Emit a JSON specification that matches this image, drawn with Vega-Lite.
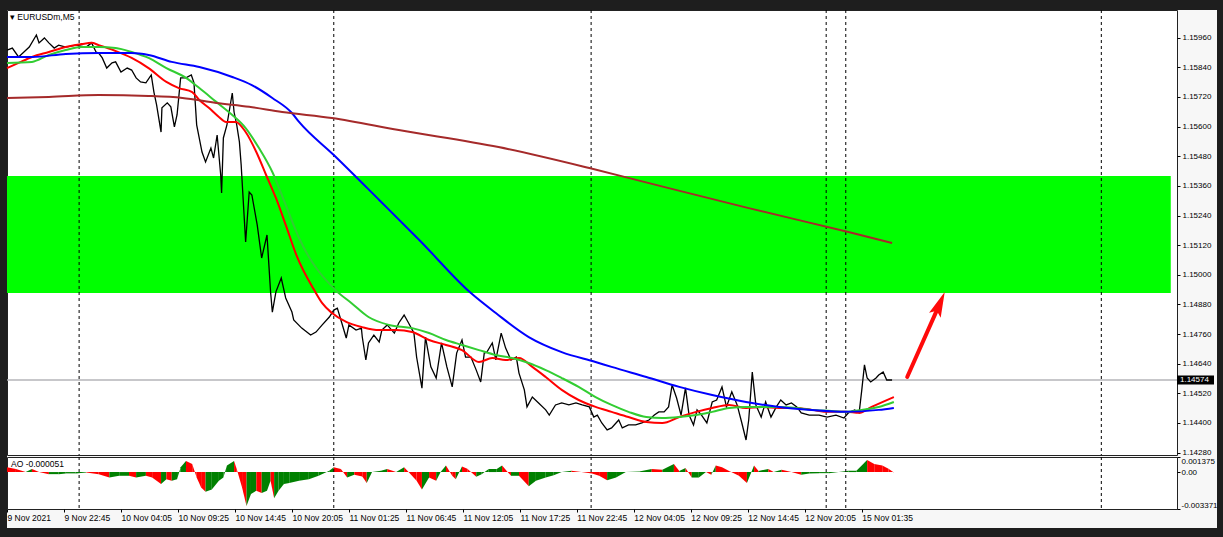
{
  "$schema": "https://vega.github.io/schema/vega-lite/v6.json",
  "padding": 0,
  "background": "#f7f7f7",
  "columns": 4,
  "spacing": 0,
  "bounds": "flush",
  "align": "each",
  "config": {
    "font": "Liberation Sans",
    "view": {"stroke": null},
    "axis": {"labelFont": "Liberation Sans", "labelFontSize": 8, "labelColor": "#000", "tickColor": "#000", "domain": false, "grid": false, "labelOverlap": false},
    "title": {"font": "Liberation Sans", "fontSize": 8.5, "fontWeight": "normal", "color": "#000"}
  },
  "datasets": {
    "one": [{"k": 1}],
    "zone": [{"i0": 0, "i1": 1307, "top": 1.154, "bottom": 1.14926}],
    "seps": [{"i": 81}, {"i": 367}, {"i": 656}, {"i": 920}, {"i": 942}, {"i": 1229}],
    "last": [{"i": 1314, "p": 1.14574, "label": "1.14574"}],
    "arrow": [{"i": 1011, "p": 1.14586, "i2": 1047, "p2": 1.14878}],
    "price": [
      {"i":0,"p":1.1591},{"i":6,"p":1.15918},{"i":13,"p":1.15882},{"i":19,"p":1.15902},{"i":25,"p":1.15922},{"i":33,"p":1.15971},{"i":36,"p":1.15939},{"i":42,"p":1.15959},{"i":47,"p":1.15939},{"i":53,"p":1.15918},{"i":58,"p":1.1593},{"i":66,"p":1.15922},{"i":77,"p":1.1593},{"i":89,"p":1.15922},{"i":95,"p":1.15939},{"i":100,"p":1.15902},{"i":103,"p":1.15898},{"i":107,"p":1.15878},{"i":112,"p":1.15837},{"i":118,"p":1.15858},{"i":122,"p":1.15862},{"i":128,"p":1.15821},{"i":135,"p":1.15837},{"i":140,"p":1.15829},{"i":145,"p":1.15797},{"i":150,"p":1.15781},{"i":156,"p":1.15777},{"i":162,"p":1.15809},{"i":165,"p":1.1574},{"i":168,"p":1.15688},{"i":173,"p":1.15578},{"i":174,"p":1.15676},{"i":180,"p":1.15696},{"i":184,"p":1.1568},{"i":188,"p":1.15599},{"i":191,"p":1.15648},{"i":195,"p":1.15797},{"i":201,"p":1.15797},{"i":207,"p":1.15809},{"i":210,"p":1.15777},{"i":213,"p":1.15607},{"i":219,"p":1.15497},{"i":223,"p":1.15457},{"i":229,"p":1.15513},{"i":232,"p":1.15473},{"i":236,"p":1.15566},{"i":240,"p":1.15404},{"i":241,"p":1.15331},{"i":243,"p":1.15554},{"i":247,"p":1.15607},{"i":253,"p":1.15736},{"i":255,"p":1.15659},{"i":258,"p":1.15607},{"i":261,"p":1.15538},{"i":263,"p":1.15444},{"i":268,"p":1.15133},{"i":272,"p":1.15335},{"i":275,"p":1.15323},{"i":281,"p":1.15202},{"i":286,"p":1.15068},{"i":292,"p":1.15161},{"i":296,"p":1.14931},{"i":298,"p":1.14849},{"i":302,"p":1.14931},{"i":308,"p":1.14987},{"i":313,"p":1.14906},{"i":320,"p":1.14849},{"i":322,"p":1.14817},{"i":331,"p":1.14784},{"i":341,"p":1.14756},{"i":347,"p":1.14768},{"i":354,"p":1.14797},{"i":362,"p":1.14829},{"i":367,"p":1.14857},{"i":371,"p":1.14865},{"i":375,"p":1.14817},{"i":381,"p":1.14744},{"i":384,"p":1.14797},{"i":392,"p":1.14776},{"i":398,"p":1.14784},{"i":399,"p":1.14748},{"i":403,"p":1.14655},{"i":406,"p":1.14724},{"i":412,"p":1.14756},{"i":418,"p":1.14728},{"i":421,"p":1.14776},{"i":427,"p":1.14797},{"i":435,"p":1.14764},{"i":440,"p":1.14805},{"i":446,"p":1.14837},{"i":451,"p":1.14805},{"i":457,"p":1.14764},{"i":460,"p":1.14667},{"i":465,"p":1.14562},{"i":466,"p":1.14541},{"i":470,"p":1.14748},{"i":476,"p":1.14627},{"i":482,"p":1.14582},{"i":488,"p":1.14724},{"i":494,"p":1.14627},{"i":500,"p":1.14546},{"i":505,"p":1.14683},{"i":511,"p":1.14736},{"i":515,"p":1.14667},{"i":521,"p":1.14667},{"i":527,"p":1.14614},{"i":532,"p":1.14566},{"i":536,"p":1.14683},{"i":539,"p":1.14687},{"i":545,"p":1.14724},{"i":549,"p":1.14655},{"i":555,"p":1.14764},{"i":560,"p":1.14703},{"i":566,"p":1.14655},{"i":572,"p":1.14667},{"i":575,"p":1.14602},{"i":581,"p":1.14534},{"i":584,"p":1.14465},{"i":590,"p":1.14505},{"i":597,"p":1.14481},{"i":605,"p":1.14453},{"i":609,"p":1.14432},{"i":616,"p":1.14473},{"i":623,"p":1.14481},{"i":631,"p":1.14473},{"i":639,"p":1.14481},{"i":646,"p":1.14473},{"i":654,"p":1.14465},{"i":659,"p":1.14424},{"i":663,"p":1.14432},{"i":668,"p":1.144},{"i":674,"p":1.14372},{"i":679,"p":1.1438},{"i":687,"p":1.14412},{"i":691,"p":1.1438},{"i":698,"p":1.14392},{"i":706,"p":1.14392},{"i":713,"p":1.144},{"i":721,"p":1.14412},{"i":727,"p":1.14432},{"i":732,"p":1.14445},{"i":738,"p":1.14445},{"i":743,"p":1.14465},{"i":747,"p":1.14554},{"i":752,"p":1.14501},{"i":757,"p":1.14432},{"i":762,"p":1.14542},{"i":766,"p":1.14432},{"i":771,"p":1.14392},{"i":775,"p":1.14453},{"i":780,"p":1.14432},{"i":786,"p":1.144},{"i":792,"p":1.14485},{"i":797,"p":1.14493},{"i":803,"p":1.14546},{"i":808,"p":1.14465},{"i":814,"p":1.14526},{"i":820,"p":1.14473},{"i":825,"p":1.14404},{"i":830,"p":1.14331},{"i":833,"p":1.14412},{"i":837,"p":1.14606},{"i":841,"p":1.14473},{"i":847,"p":1.14424},{"i":852,"p":1.14485},{"i":858,"p":1.14424},{"i":864,"p":1.14465},{"i":869,"p":1.14493},{"i":875,"p":1.14473},{"i":881,"p":1.14481},{"i":887,"p":1.14465},{"i":892,"p":1.14441},{"i":901,"p":1.14432},{"i":912,"p":1.14432},{"i":921,"p":1.14424},{"i":931,"p":1.14432},{"i":940,"p":1.1442},{"i":945,"p":1.14441},{"i":952,"p":1.14453},{"i":957,"p":1.14441},{"i":960,"p":1.14534},{"i":963,"p":1.14635},{"i":966,"p":1.14582},{"i":970,"p":1.14566},{"i":976,"p":1.14582},{"i":979,"p":1.14594},{"i":984,"p":1.14606},{"i":988,"p":1.14574},{"i":994,"p":1.14574}
    ],
    "ma": [
      {"s":"fast","i":0,"p":1.15837},{"s":"fast","i":13,"p":1.15858},{"s":"fast","i":28,"p":1.15882},{"s":"fast","i":47,"p":1.15902},{"s":"fast","i":66,"p":1.15922},{"s":"fast","i":84,"p":1.15934},{"s":"fast","i":95,"p":1.15939},{"s":"fast","i":103,"p":1.1593},{"s":"fast","i":122,"p":1.15906},{"s":"fast","i":140,"p":1.15878},{"s":"fast","i":159,"p":1.15837},{"s":"fast","i":179,"p":1.15781},{"s":"fast","i":193,"p":1.15756},{"s":"fast","i":208,"p":1.1574},{"s":"fast","i":216,"p":1.15708},{"s":"fast","i":227,"p":1.15675},{"s":"fast","i":238,"p":1.15639},{"s":"fast","i":246,"p":1.15619},{"s":"fast","i":257,"p":1.15619},{"s":"fast","i":268,"p":1.15578},{"s":"fast","i":280,"p":1.15497},{"s":"fast","i":291,"p":1.15404},{"s":"fast","i":302,"p":1.15311},{"s":"fast","i":313,"p":1.15202},{"s":"fast","i":325,"p":1.1508},{"s":"fast","i":345,"p":1.14938},{"s":"fast","i":354,"p":1.14885},{"s":"fast","i":365,"p":1.14845},{"s":"fast","i":381,"p":1.14809},{"s":"fast","i":399,"p":1.14788},{"s":"fast","i":418,"p":1.14776},{"s":"fast","i":437,"p":1.14776},{"s":"fast","i":455,"p":1.14768},{"s":"fast","i":474,"p":1.14736},{"s":"fast","i":493,"p":1.14716},{"s":"fast","i":511,"p":1.14695},{"s":"fast","i":530,"p":1.14647},{"s":"fast","i":545,"p":1.14663},{"s":"fast","i":560,"p":1.14655},{"s":"fast","i":575,"p":1.14663},{"s":"fast","i":590,"p":1.14627},{"s":"fast","i":605,"p":1.14586},{"s":"fast","i":623,"p":1.14534},{"s":"fast","i":642,"p":1.14493},{"s":"fast","i":661,"p":1.14465},{"s":"fast","i":679,"p":1.14445},{"s":"fast","i":698,"p":1.14424},{"s":"fast","i":718,"p":1.14404},{"s":"fast","i":736,"p":1.144},{"s":"fast","i":755,"p":1.14424},{"s":"fast","i":774,"p":1.14445},{"s":"fast","i":792,"p":1.14461},{"s":"fast","i":811,"p":1.14473},{"s":"fast","i":830,"p":1.14461},{"s":"fast","i":848,"p":1.14465},{"s":"fast","i":867,"p":1.14461},{"s":"fast","i":886,"p":1.14461},{"s":"fast","i":904,"p":1.14453},{"s":"fast","i":923,"p":1.14445},{"s":"fast","i":942,"p":1.14445},{"s":"fast","i":957,"p":1.14441},{"s":"fast","i":971,"p":1.14465},{"s":"fast","i":996,"p":1.14505},
      {"s":"mid","i":0,"p":1.15858},{"s":"mid","i":28,"p":1.15862},{"s":"mid","i":47,"p":1.1589},{"s":"mid","i":66,"p":1.1591},{"s":"mid","i":84,"p":1.15922},{"s":"mid","i":103,"p":1.15922},{"s":"mid","i":122,"p":1.15918},{"s":"mid","i":140,"p":1.15902},{"s":"mid","i":159,"p":1.15878},{"s":"mid","i":179,"p":1.15837},{"s":"mid","i":201,"p":1.15797},{"s":"mid","i":216,"p":1.15756},{"s":"mid","i":235,"p":1.157},{"s":"mid","i":253,"p":1.15647},{"s":"mid","i":268,"p":1.15594},{"s":"mid","i":283,"p":1.15513},{"s":"mid","i":298,"p":1.15416},{"s":"mid","i":313,"p":1.15283},{"s":"mid","i":328,"p":1.15149},{"s":"mid","i":369,"p":1.14938},{"s":"mid","i":387,"p":1.14885},{"s":"mid","i":406,"p":1.14829},{"s":"mid","i":429,"p":1.14797},{"s":"mid","i":455,"p":1.14784},{"s":"mid","i":474,"p":1.14764},{"s":"mid","i":493,"p":1.14736},{"s":"mid","i":511,"p":1.14716},{"s":"mid","i":530,"p":1.14695},{"s":"mid","i":549,"p":1.14675},{"s":"mid","i":567,"p":1.14663},{"s":"mid","i":586,"p":1.14643},{"s":"mid","i":605,"p":1.14614},{"s":"mid","i":623,"p":1.14582},{"s":"mid","i":642,"p":1.14546},{"s":"mid","i":661,"p":1.14505},{"s":"mid","i":679,"p":1.14473},{"s":"mid","i":698,"p":1.14445},{"s":"mid","i":718,"p":1.14424},{"s":"mid","i":736,"p":1.1442},{"s":"mid","i":755,"p":1.14424},{"s":"mid","i":774,"p":1.14432},{"s":"mid","i":792,"p":1.14445},{"s":"mid","i":811,"p":1.14461},{"s":"mid","i":830,"p":1.14465},{"s":"mid","i":848,"p":1.14465},{"s":"mid","i":867,"p":1.14465},{"s":"mid","i":886,"p":1.14461},{"s":"mid","i":904,"p":1.14453},{"s":"mid","i":923,"p":1.14449},{"s":"mid","i":942,"p":1.14445},{"s":"mid","i":960,"p":1.14453},{"s":"mid","i":979,"p":1.14465},{"s":"mid","i":996,"p":1.14485},
      {"s":"slow","i":0,"p":1.15882},{"s":"slow","i":28,"p":1.15882},{"s":"slow","i":66,"p":1.15894},{"s":"slow","i":103,"p":1.15898},{"s":"slow","i":140,"p":1.15898},{"s":"slow","i":159,"p":1.1589},{"s":"slow","i":185,"p":1.15862},{"s":"slow","i":216,"p":1.15841},{"s":"slow","i":253,"p":1.15801},{"s":"slow","i":275,"p":1.15768},{"s":"slow","i":298,"p":1.15716},{"s":"slow","i":320,"p":1.15655},{"s":"slow","i":328,"p":1.15619},{"s":"slow","i":367,"p":1.15485},{"s":"slow","i":418,"p":1.15303},{"s":"slow","i":463,"p":1.15141},{"s":"slow","i":521,"p":1.14926},{"s":"slow","i":549,"p":1.14845},{"s":"slow","i":586,"p":1.14748},{"s":"slow","i":623,"p":1.14687},{"s":"slow","i":661,"p":1.14647},{"s":"slow","i":679,"p":1.14627},{"s":"slow","i":718,"p":1.14586},{"s":"slow","i":755,"p":1.14546},{"s":"slow","i":792,"p":1.14513},{"s":"slow","i":830,"p":1.14485},{"s":"slow","i":867,"p":1.14465},{"s":"slow","i":904,"p":1.14453},{"s":"slow","i":942,"p":1.14445},{"s":"slow","i":979,"p":1.14453},{"s":"slow","i":996,"p":1.14461},
      {"s":"long","i":0,"p":1.15716},{"s":"long","i":47,"p":1.1572},{"s":"long","i":103,"p":1.15728},{"s":"long","i":159,"p":1.15724},{"s":"long","i":197,"p":1.15716},{"s":"long","i":235,"p":1.15696},{"s":"long","i":272,"p":1.1568},{"s":"long","i":309,"p":1.15659},{"s":"long","i":365,"p":1.15635},{"s":"long","i":440,"p":1.15586},{"s":"long","i":552,"p":1.15517},{"s":"long","i":654,"p":1.15432},{"s":"long","i":721,"p":1.15371},{"s":"long","i":833,"p":1.1527},{"s":"long","i":945,"p":1.15173},{"s":"long","i":994,"p":1.15129}
    ],
    "ao": [
      {"i":0,"v":0.00043},{"i":10,"v":0.00028},{"i":21,"v":0},{"i":28,"v":0.00028},{"i":36,"v":0},{"i":47,"v":-0.00019},{"i":58,"v":-0.00019},{"i":66,"v":-0.00012},{"i":77,"v":-0.00012},{"i":89,"v":-0.00003},{"i":103,"v":-0.00019},{"i":115,"v":-0.0005},{"i":126,"v":-0.00034},{"i":137,"v":-0.00034},{"i":145,"v":-0.0005},{"i":156,"v":-0.00034},{"i":163,"v":-0.0005},{"i":173,"v":-0.0011},{"i":179,"v":-0.00065},{"i":185,"v":-0.0008},{"i":191,"v":-0.00065},{"i":195,"v":0.00043},{"i":201,"v":0.001},{"i":208,"v":0.00074},{"i":213,"v":-0.0005},{"i":218,"v":-0.0014},{"i":223,"v":-0.0018},{"i":230,"v":-0.0016},{"i":238,"v":-0.0008},{"i":243,"v":-0.0005},{"i":247,"v":0.0006},{"i":255,"v":0.001},{"i":258,"v":0.00028},{"i":264,"v":-0.0014},{"i":269,"v":-0.0031},{"i":274,"v":-0.002},{"i":280,"v":-0.0017},{"i":286,"v":-0.0019},{"i":292,"v":-0.0017},{"i":296,"v":-0.0008},{"i":300,"v":-0.0024},{"i":305,"v":-0.0017},{"i":311,"v":-0.0011},{"i":317,"v":-0.001},{"i":328,"v":-0.0008},{"i":339,"v":-0.00065},{"i":350,"v":-0.00034},{"i":362,"v":0.00012},{"i":367,"v":0.00043},{"i":375,"v":0.00028},{"i":382,"v":-0.0005},{"i":390,"v":-0.00025},{"i":399,"v":-0.0004},{"i":404,"v":-0.001},{"i":410,"v":0},{"i":420,"v":0.00012},{"i":427,"v":0.00028},{"i":437,"v":0},{"i":446,"v":0.00043},{"i":451,"v":0},{"i":460,"v":-0.0008},{"i":466,"v":-0.0016},{"i":474,"v":-0.0005},{"i":482,"v":-0.0008},{"i":487,"v":0},{"i":493,"v":0.0006},{"i":500,"v":-0.00034},{"i":504,"v":-0.00065},{"i":511,"v":0.0005},{"i":517,"v":0.0003},{"i":527,"v":-0.00043},{"i":533,"v":-0.0002},{"i":541,"v":0.00028},{"i":550,"v":0.00028},{"i":556,"v":0.0006},{"i":566,"v":-0.00034},{"i":575,"v":-0.00034},{"i":586,"v":-0.0013},{"i":594,"v":-0.0008},{"i":605,"v":-0.0005},{"i":614,"v":-0.0003},{"i":623,"v":0},{"i":634,"v":0.00012},{"i":645,"v":0},{"i":657,"v":-0.00012},{"i":665,"v":-0.00034},{"i":674,"v":-0.00074},{"i":684,"v":-0.0005},{"i":695,"v":0},{"i":710,"v":0.00006},{"i":724,"v":0.00028},{"i":736,"v":0.0002},{"i":749,"v":0.00074},{"i":755,"v":0.0001},{"i":762,"v":0.00037},{"i":769,"v":-0.0005},{"i":777,"v":-0.0005},{"i":785,"v":0},{"i":791,"v":-0.00025},{"i":796,"v":0.0006},{"i":803,"v":0.00043},{"i":811,"v":0.0001},{"i":822,"v":-0.00034},{"i":831,"v":-0.001},{"i":839,"v":0.0006},{"i":844,"v":0.0001},{"i":855,"v":0.00028},{"i":861,"v":0},{"i":870,"v":0.0002},{"i":881,"v":0},{"i":892,"v":-0.00025},{"i":901,"v":-0.00012},{"i":912,"v":-0.0001},{"i":923,"v":-0.0001},{"i":934,"v":0},{"i":945,"v":0.00012},{"i":954,"v":0.00012},{"i":966,"v":0.0011},{"i":974,"v":0.00074},{"i":983,"v":0.0006},{"i":990,"v":0.0003},{"i":996,"v":-0.00005}
    ]
  },
  "concat": [
    {"width": 7, "height": 10, "view": {"fill": "#1e1e1e"}, "data": {"name": "one"}, "mark": {"type": "point", "opacity": 0, "size": 1}, "encoding": {}},
    {"width": 1170, "height": 10, "view": {"fill": "#1e1e1e"}, "data": {"name": "one"}, "mark": {"type": "point", "opacity": 0, "size": 1}, "encoding": {}},
    {"width": 40, "height": 10, "view": {"fill": "#1e1e1e"}, "data": {"name": "one"}, "mark": {"type": "point", "opacity": 0, "size": 1}, "encoding": {}},
    {"width": 6, "height": 10, "view": {"fill": "#1e1e1e"}, "data": {"name": "one"}, "mark": {"type": "point", "opacity": 0, "size": 1}, "encoding": {}},

    {"width": 7, "height": 445, "view": {"fill": "#1e1e1e"}, "data": {"name": "one"}, "mark": {"type": "point", "opacity": 0, "size": 1}, "encoding": {}},
    {
      "width": 1170,
      "height": 445,
      "view": {"fill": "#ffffff", "stroke": "#222222", "strokeWidth": 1},
      "title": {"text": "▾ EURUSDm,M5", "anchor": "start", "frame": "group", "offset": -12, "dx": 3},
      "layer": [
        {
          "data": {"name": "zone"},
          "mark": {"type": "rect", "color": "#00ff00"},
          "encoding": {
            "x": {"field": "i0", "type": "quantitative", "scale": {"domain": [0, 1314], "nice": false, "zero": false}, "axis": null, "title": null},
            "x2": {"field": "i1"},
            "y": {"field": "top", "type": "quantitative", "scale": {"domain": [1.142703, 1.160721], "nice": false, "zero": false}, "title": null,
              "axis": {"orient": "right", "values": [1.1428, 1.144, 1.1452, 1.1464, 1.1476, 1.1488, 1.15, 1.1512, 1.1524, 1.1536, 1.1548, 1.156, 1.1572, 1.1584, 1.1596], "tickCount": 30, "format": ".5f", "tickSize": 3, "labelPadding": 2, "title": null, "labelOverlap": false}},
            "y2": {"field": "bottom"}
          }
        },
        {
          "data": {"name": "seps"},
          "mark": {"type": "rule", "color": "#000000", "strokeWidth": 1, "strokeDash": [3, 3]},
          "encoding": {"x": {"field": "i", "type": "quantitative", "axis": null, "title": null}}
        },
        {
          "data": {"name": "last"},
          "mark": {"type": "rule", "color": "#b4b4b8", "strokeWidth": 1.5},
          "encoding": {"y": {"field": "p", "type": "quantitative", "title": null}}
        },
        {
          "data": {"name": "price"},
          "mark": {"type": "line", "color": "#000000", "strokeWidth": 1.3},
          "encoding": {
            "x": {"field": "i", "type": "quantitative", "axis": null, "title": null},
            "y": {"field": "p", "type": "quantitative", "title": null}
          }
        },
        {
          "data": {"name": "ma"},
          "mark": {"type": "line", "strokeWidth": 2, "interpolate": "monotone"},
          "encoding": {
            "x": {"field": "i", "type": "quantitative", "axis": null, "title": null},
            "y": {"field": "p", "type": "quantitative", "title": null},
            "color": {"field": "s", "type": "nominal", "legend": null, "scale": {"domain": ["long", "slow", "mid", "fast"], "range": ["#a52a2a", "#0000ff", "#32cd32", "#ff0000"]}},
            "order": {"field": "i", "type": "quantitative"}
          }
        },
        {
          "data": {"name": "arrow"},
          "mark": {"type": "rule", "color": "#ff0a0a", "strokeWidth": 4, "strokeCap": "round"},
          "encoding": {
            "x": {"field": "i", "type": "quantitative", "axis": null, "title": null},
            "y": {"field": "p", "type": "quantitative", "title": null},
            "x2": {"field": "i2"},
            "y2": {"field": "p2"}
          }
        },
        {
          "data": {"name": "arrow"},
          "mark": {"type": "point", "shape": "M0,-1L0.45,0.8L0,0.45L-0.45,0.8Z", "size": 784, "angle": 23, "filled": true, "color": "#ff0a0a", "opacity": 1, "strokeWidth": 0},
          "encoding": {
            "x": {"field": "i2", "type": "quantitative", "axis": null, "title": null},
            "y": {"field": "p2", "type": "quantitative", "title": null}
          }
        },
        {
          "data": {"name": "last"},
          "mark": {"type": "point", "shape": "M0,-0.12L1,-0.12L1,0.12L0,0.12Z", "size": 5476, "filled": true, "color": "#000000", "opacity": 1, "strokeWidth": 0, "clip": false},
          "encoding": {
            "x": {"field": "i", "type": "quantitative", "axis": null, "title": null},
            "y": {"field": "p", "type": "quantitative", "title": null}
          }
        },
        {
          "data": {"name": "last"},
          "mark": {"type": "text", "color": "#ffffff", "fontSize": 8, "align": "left", "baseline": "middle", "dx": 3, "clip": false},
          "encoding": {
            "x": {"field": "i", "type": "quantitative", "axis": null, "title": null},
            "y": {"field": "p", "type": "quantitative", "title": null},
            "text": {"field": "label"}
          }
        }
      ]
    },
    {"width": 40, "height": 445, "data": {"name": "one"}, "mark": {"type": "point", "opacity": 0, "size": 1}, "encoding": {}},
    {"width": 6, "height": 445, "view": {"fill": "#1e1e1e"}, "data": {"name": "one"}, "mark": {"type": "point", "opacity": 0, "size": 1}, "encoding": {}},

    {"width": 7, "height": 2, "view": {"fill": "#1e1e1e"}, "data": {"name": "one"}, "mark": {"type": "point", "opacity": 0, "size": 1}, "encoding": {}},
    {"width": 1170, "height": 2, "data": {"name": "one"}, "mark": {"type": "point", "opacity": 0, "size": 1}, "encoding": {}},
    {"width": 40, "height": 2, "data": {"name": "one"}, "mark": {"type": "point", "opacity": 0, "size": 1}, "encoding": {}},
    {"width": 6, "height": 2, "view": {"fill": "#1e1e1e"}, "data": {"name": "one"}, "mark": {"type": "point", "opacity": 0, "size": 1}, "encoding": {}},

    {"width": 7, "height": 52, "view": {"fill": "#1e1e1e"}, "data": {"name": "one"}, "mark": {"type": "point", "opacity": 0, "size": 1}, "encoding": {}},
    {
      "width": 1170,
      "height": 52,
      "view": {"fill": "#ffffff", "stroke": "#222222", "strokeWidth": 1},
      "title": {"text": "AO -0.000051", "anchor": "start", "frame": "group", "offset": -12, "dx": 4},
      "layer": [
        {
          "data": {"name": "ao"},
          "transform": [
            {"window": [{"op": "lead", "field": "i", "as": "i2"}, {"op": "lead", "field": "v", "as": "v2"}], "sort": [{"field": "i", "order": "ascending"}]},
            {"filter": "datum.i2 != null"},
            {"fold": ["i", "i2"], "as": ["kx", "x"]},
            {"fold": ["v", "v2"], "as": ["ky", "y"]},
            {"filter": "(datum.kx == 'i' && datum.ky == 'v') || (datum.kx == 'i2' && datum.ky == 'v2')"}
          ],
          "mark": {"type": "area", "strokeWidth": 0},
          "encoding": {
            "x": {"field": "x", "type": "quantitative", "scale": {"domain": [0, 1314], "nice": false, "zero": false}, "title": null,
              "axis": {"orient": "bottom", "values": [0, 64, 128, 192, 256, 320, 384, 448, 512, 576, 640, 704, 768, 832, 896, 960], "tickCount": 40,
                "labelExpr": "['9 Nov 2021','9 Nov 22:45','10 Nov 04:05','10 Nov 09:25','10 Nov 14:45','10 Nov 20:05','11 Nov 01:25','11 Nov 06:45','11 Nov 12:05','11 Nov 17:25','11 Nov 22:45','12 Nov 04:05','12 Nov 09:25','12 Nov 14:45','12 Nov 20:05','15 Nov 01:35'][round(datum.value / 64)]",
                "labelAlign": "left", "labelFontSize": 8.5, "tickSize": 3, "labelPadding": 1, "labelOverlap": false, "labelBound": false, "labelFlush": false, "title": null}},
            "y": {"field": "y", "type": "quantitative", "scale": {"domain": [-0.003371, 0.001375], "nice": false, "zero": false}, "title": null,
              "axis": {"orient": "right", "values": [0.001375, 0, -0.003371], "tickCount": 10, "labelExpr": "datum.value == 0 ? '0.00' : (datum.value < 0 ? '-' + format(-datum.value, '.6f') : format(datum.value, '.6f'))", "labelFlush": true, "tickSize": 3, "labelPadding": 1, "labelOverlap": false, "title": null}},
            "y2": {"datum": 0},
            "detail": {"field": "i", "type": "quantitative"},
            "color": {"condition": {"test": "datum.v2 >= datum.v", "value": "#008000"}, "value": "#ff0000"}
          }
        },
        {
          "data": {"name": "seps"},
          "mark": {"type": "rule", "color": "#000000", "strokeWidth": 1, "strokeDash": [3, 3]},
          "encoding": {"x": {"field": "i", "type": "quantitative", "title": null}}
        }
      ]
    },
    {"width": 40, "height": 52, "data": {"name": "one"}, "mark": {"type": "point", "opacity": 0, "size": 1}, "encoding": {}},
    {"width": 6, "height": 52, "view": {"fill": "#1e1e1e"}, "data": {"name": "one"}, "mark": {"type": "point", "opacity": 0, "size": 1}, "encoding": {}},

    {"width": 7, "height": 19, "view": {"fill": "#1e1e1e"}, "data": {"name": "one"}, "mark": {"type": "point", "opacity": 0, "size": 1}, "encoding": {}},
    {"width": 1170, "height": 19, "data": {"name": "one"}, "mark": {"type": "point", "opacity": 0, "size": 1}, "encoding": {}},
    {"width": 40, "height": 19, "data": {"name": "one"}, "mark": {"type": "point", "opacity": 0, "size": 1}, "encoding": {}},
    {"width": 6, "height": 19, "view": {"fill": "#1e1e1e"}, "data": {"name": "one"}, "mark": {"type": "point", "opacity": 0, "size": 1}, "encoding": {}},

    {"width": 7, "height": 9, "view": {"fill": "#1e1e1e"}, "data": {"name": "one"}, "mark": {"type": "point", "opacity": 0, "size": 1}, "encoding": {}},
    {"width": 1170, "height": 9, "view": {"fill": "#1e1e1e"}, "data": {"name": "one"}, "mark": {"type": "point", "opacity": 0, "size": 1}, "encoding": {}},
    {"width": 40, "height": 9, "view": {"fill": "#1e1e1e"}, "data": {"name": "one"}, "mark": {"type": "point", "opacity": 0, "size": 1}, "encoding": {}},
    {"width": 6, "height": 9, "view": {"fill": "#1e1e1e"}, "data": {"name": "one"}, "mark": {"type": "point", "opacity": 0, "size": 1}, "encoding": {}}
  ]
}
